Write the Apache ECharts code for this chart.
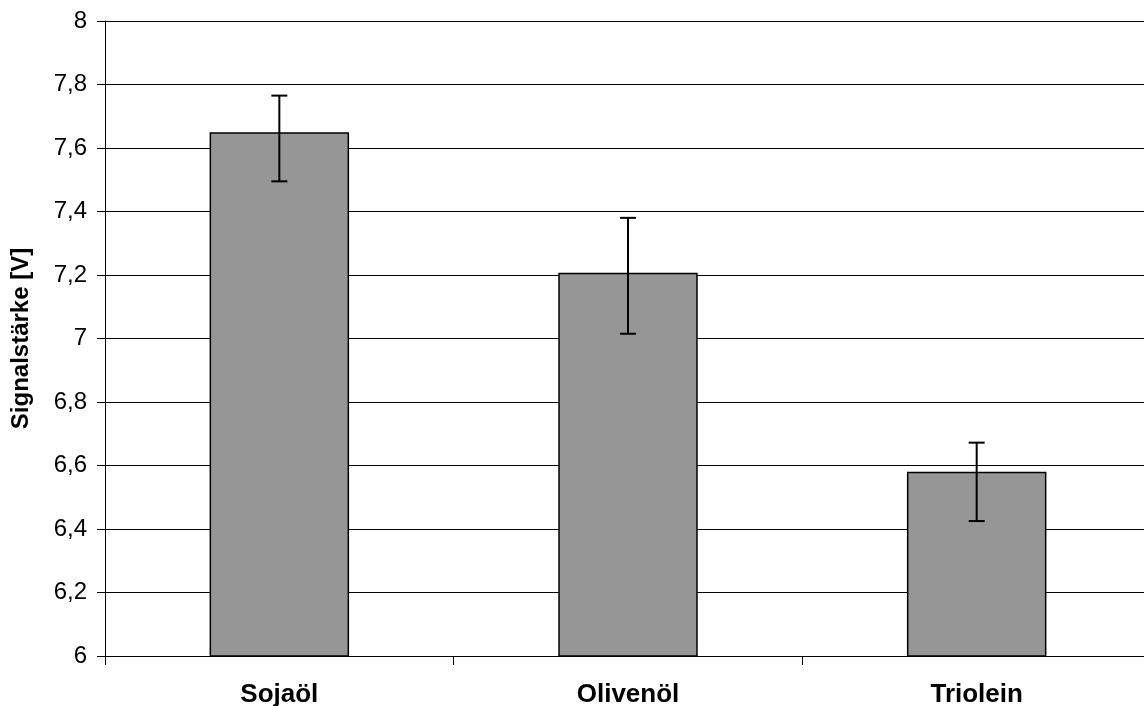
<!DOCTYPE html>
<html>
<head>
<meta charset="utf-8">
<script src="https://cdn.jsdelivr.net/npm/echarts@6/dist/echarts.min.js"></script>
<style>
html,body{margin:0;padding:0;background:#fff;}
#chart{width:1144px;height:706px;}
</style>
</head>
<body>
<div id="chart"></div>
<script>
const categories = ['Sojaöl', 'Olivenöl', 'Triolein'];
const values = [7.65, 7.207, 6.58];
const errLow = [7.495, 7.015, 6.425];
const errHigh = [7.765, 7.38, 6.672];
const yName = 'Signalstärke [V]';

const chart = echarts.init(document.getElementById('chart'), null, {renderer: 'canvas'});
const errData = categories.map((c, i) => [i, errLow[i], errHigh[i]]);

chart.setOption({
  animation: false,
  backgroundColor: '#fff',
  grid: {left: 105, top: 21, bottom: 50, width: 1046, containLabel: false, outerBoundsMode: 'none'},
  xAxis: {
    type: 'category',
    data: categories,
    axisLine: {lineStyle: {color: '#000', width: 1}},
    axisTick: {show: true, length: 9, lineStyle: {color: '#000'}},
    axisLabel: {color: '#000', fontFamily: 'Liberation Sans, Arial, sans-serif', fontWeight: 'bold', fontSize: 26, margin: 26},
    splitLine: {show: false}
  },
  yAxis: {
    type: 'value',
    min: 6, max: 8, interval: 0.2,
    name: yName,
    nameLocation: 'middle',
    nameGap: 72,
    nameTextStyle: {color: '#000', fontFamily: 'Liberation Sans, Arial, sans-serif', fontWeight: 'bold', fontSize: 24},
    axisLine: {show: true, lineStyle: {color: '#000', width: 1}},
    axisTick: {show: true, length: 8, lineStyle: {color: '#000'}},
    axisLabel: {
      color: '#000', fontFamily: 'Liberation Sans, Arial, sans-serif', fontSize: 24, margin: 18,
      formatter: v => (Math.round(v * 10) / 10).toString().replace('.', ',')
    },
    splitLine: {show: true, lineStyle: {color: '#000', width: 1}}
  },
  series: [
    {
      type: 'bar',
      data: values,
      barWidth: '40%',
      itemStyle: {color: '#969696', borderColor: '#000', borderWidth: 1.5},
      z: 2
    },
    {
      type: 'custom',
      data: errData,
      z: 5,
      renderItem: function (params, api) {
        const x = api.value(0);
        const lo = api.coord([x, api.value(1)]);
        const hi = api.coord([x, api.value(2)]);
        const half = 8;
        const style = {stroke: '#000', lineWidth: 2};
        return {
          type: 'group',
          children: [
            {type: 'line', shape: {x1: hi[0], y1: hi[1], x2: lo[0], y2: lo[1]}, style: style},
            {type: 'line', shape: {x1: hi[0] - half, y1: hi[1], x2: hi[0] + half, y2: hi[1]}, style: style},
            {type: 'line', shape: {x1: lo[0] - half, y1: lo[1], x2: lo[0] + half, y2: lo[1]}, style: style}
          ]
        };
      }
    }
  ]
});
</script>
</body>
</html>
